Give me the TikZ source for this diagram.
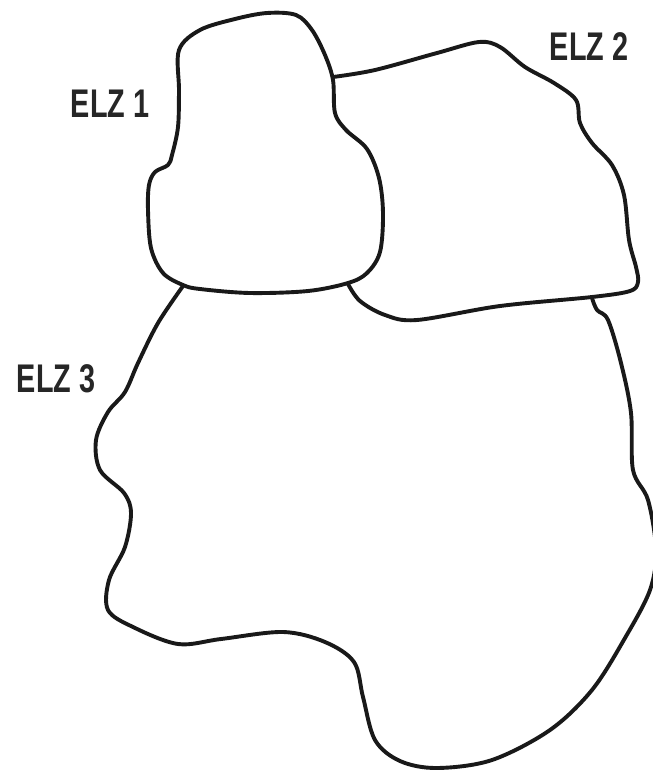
\documentclass[tikz,border=0pt]{standalone}
\usepackage{fontspec}
\setmainfont{Liberation Sans}
\begin{document}
\begin{tikzpicture}[x=1pt,y=-1pt,
  zone/.style={line width=3.9pt, draw=black!90, line join=round, line cap=round},
  zlabel/.style={inner sep=0pt, font=\fontsize{40}{40}\selectfont\bfseries, text=black!85, xscale=0.72}]
\useasboundingbox (0,0) rectangle (653,772);
\clip (0,0) rectangle (653,772);
% ELZ 1
\draw[zone] plot[smooth cycle, tension=0.55] coordinates {
 (179,50) (200,30) (235,19) (267,13) (296,15) (312,30) (325,55) (333,80)
 (335,113) (346,130) (367,149) (379,178) (383,213) (380,252) (367,273)
 (348,283) (308,291) (250,293) (200,289) (183,285) (163,273) (151,248)
 (148,210) (149,185) (155,172) (168,165) (172,155) (178,127) (179,90)};
% ELZ 2
\draw[zone] plot[smooth, tension=0.55] coordinates {
 (333,77) (375,70) (437,53) (479,42) (500,47) (525,67) (554,83) (576,100)
 (580,123) (592,143) (612,165) (624,195) (629,240) (636,267) (638,282)
 (630,291) (592,297) (500,306) (417,320) (385,315) (360,301) (348,284)};
% ELZ 3
\draw[zone] plot[smooth, tension=0.55] coordinates {
 (183,286) (158,323) (138,363) (125,392) (108,412) (96,440) (100,470)
 (124,493) (131,513) (125,547) (109,580) (108,610) (133,627) (178,644)
 (221,639) (283,632) (325,642) (354,662) (363,697) (375,740) (400,761)
 (437,768) (492,760) (550,730) (592,690) (625,638) (650,590) (656,550)
 (648,500) (633,470) (631,413) (621,363) (608,320) (597,310) (592,298)};
\node[zlabel] (elz1) at (110,104) {ELZ 1};
\node[zlabel] (elz2) at (589,47) {ELZ 2};
\node[zlabel] (elz3) at (56,379) {ELZ 3};
\end{tikzpicture}
\end{document}
